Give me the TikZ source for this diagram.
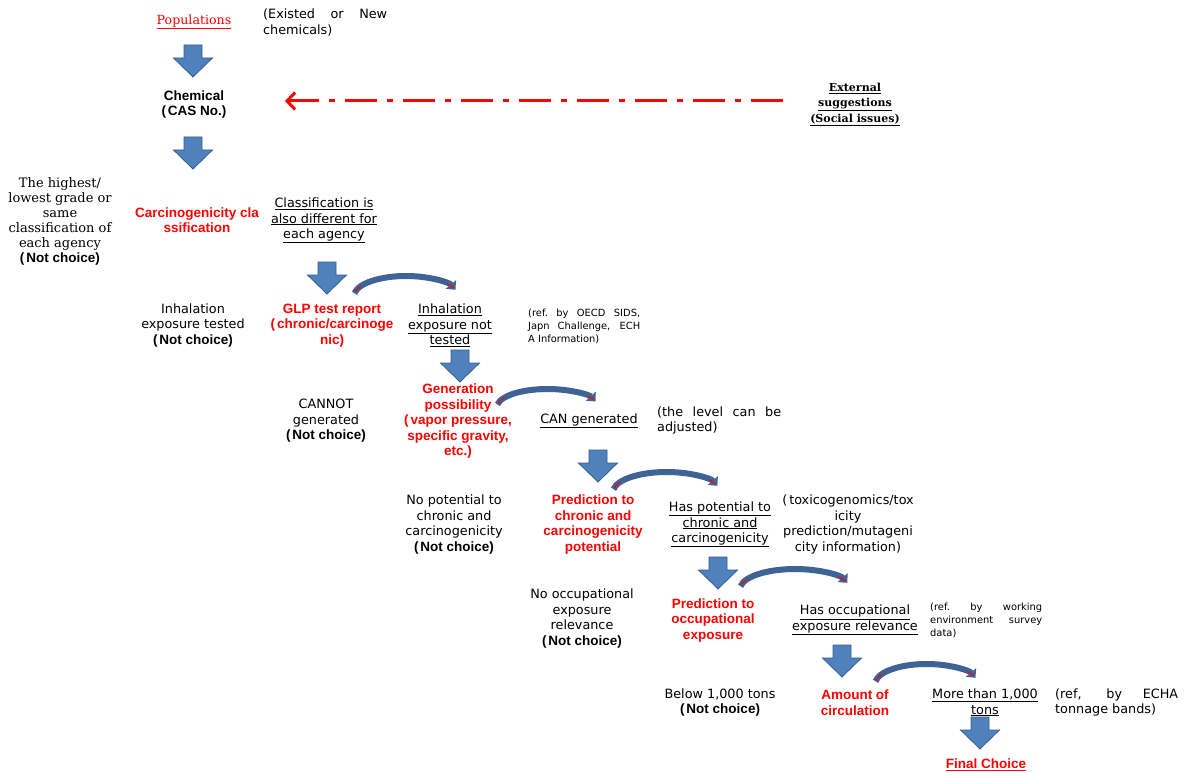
\documentclass[tikz,border=0pt]{standalone}
\usepackage{fontspec}
\setmainfont{DejaVu Sans}
\newfontfamily\lsans{Liberation Sans}
\newfontfamily\dserif{DejaVu Serif}
\usetikzlibrary{arrows.meta,calc}
\definecolor{bblue}{RGB}{79,129,189}
\definecolor{bedge}{RGB}{56,93,138}
\definecolor{cblue}{RGB}{62,100,150}
\definecolor{pred}{RGB}{255,0,0}
\newcommand\regf{\fontsize{12.8}{15.5}\selectfont}
\newcommand\redf{\lsans\bfseries\fontsize{13.5}{15.5}\selectfont}
\newcommand\serf{\dserif\fontsize{13}{15}\selectfont}
\newcommand\extf{\dserif\bfseries\fontsize{11}{15.5}\selectfont}
\newcommand\smf{\fontsize{9.9}{13}\selectfont}
\newcommand\nch{{\lsans\bfseries\fontsize{13.5}{15.5}\selectfont (\kern2pt Not choice)}}
\newcommand\myul[1]{\underline{#1}}
\newcommand\carr[5]{%
  \coordinate (#1) at (#2,-#3);
  \draw[cblue, line width=6pt, -{Triangle[width=13pt,length=7pt]}]
    ($(#1)+(172:#4 and #5)$) arc[start angle=172, end angle=18, x radius=#4, y radius=#5];
  \draw[pred, line width=1.1pt]
    ($(#1)+(168:#4 and #5)$) arc[start angle=168, end angle=150, x radius=#4, y radius=#5];
  \draw[pred, line width=1.1pt]
    ($(#1)+(38:#4 and #5)$) arc[start angle=38, end angle=24, x radius=#4, y radius=#5];
}
\tikzset{
  barrow/.pic={\filldraw[fill=bblue,draw=bedge,line width=0.8pt]
    (-9,0) -- (9,0) -- (9,-13) -- (19.5,-13) -- (0,-32) -- (-19.5,-13) -- (-9,-13) -- cycle;},
  txt/.style={font=\regf, align=center, inner sep=0pt},
  redt/.style={font=\redf, text=pred, align=center, inner sep=0pt},
  sert/.style={font=\serf, align=center, inner sep=0pt},
  note/.style={font=\smf, align=justify, inner sep=0pt, anchor=west},
  jnote/.style={font=\regf, align=justify, inner sep=0pt, anchor=west},
}
\begin{document}
\begin{tikzpicture}[x=1pt,y=1pt]
\useasboundingbox[fill=white] (0,0) rectangle (1189,-773);

% top
\node[sert, font=\dserif\fontsize{12.6}{15}\selectfont, text=pred] (pop) at (194,-22) {\myul{Populations}};
\node[jnote, text width=124pt] (exist) at (263,-22.5) {(Existed or New\linebreak chemicals)};
\pic (a1) at (193,-45) {barrow};
\node[redt, text=black] (chem) at (194,-104.5) {Chemical\\(\kern2pt CAS No.)};
\node[font=\extf, align=center, inner sep=0pt] (ext) at (855,-104.5) {\myul{External}\\\myul{suggestions}\\\myul{(Social issues)}};
\coordinate (dstart) at (783,-101);
\coordinate (dend) at (285,-101);
\draw[pred, line width=3pt, dash pattern=on 32pt off 10pt on 6pt off 10pt,
  -{Straight Barb[length=8pt,width=17pt,line width=3pt]}] (dstart) -- (dend);
\pic (a2) at (193,-137) {barrow};

% classification
\node[sert] (hi) at (60,-221.5) {The highest/\\lowest grade or\\same\\classification of\\each agency\\\nch};
\node[redt] (carc) at (197,-220) {Carcinogenicity cla\\ssification};
\node[txt] (cls) at (324,-220.5) {\myul{Classification is}\\\myul{also different for}\\\myul{each agency}};
\pic (a3) at (327,-262) {barrow};
\carr{c1}{406}{296}{52}{20}

% GLP
\node[txt] (inh) at (193,-325.5) {Inhalation\\exposure tested\\\nch};
\node[redt] (glp) at (332,-325.5) {GLP test report\\(\kern2pt chronic/carcinoge\\nic)};
\node[txt] (inhnot) at (450,-325.5) {\myul{Inhalation}\\\myul{exposure not}\\\myul{tested}};
\node[note, text width=112pt] (ref1) at (528,-326) {(ref.\ by OECD SIDS,\linebreak Japn Challenge, ECH\linebreak A Information)};
\pic (a4) at (460,-350) {barrow};
\carr{c2}{547.5}{407}{50.5}{18}

% generation
\node[redt] (gen) at (458,-421.5) {Generation\\possibility\\(\kern2pt vapor pressure,\\specific gravity,\\etc.)};
\node[txt] (cannot) at (326,-421) {CANNOT\\generated\\\nch};
\node[txt] (can) at (589,-421) {\myul{CAN generated}};
\node[jnote, text width=124pt] (level) at (657,-420.5) {(the level can be\linebreak adjusted)};
\pic (a5) at (598,-450) {barrow};
\carr{c3}{666.5}{492}{53.5}{20}

% chronic
\node[txt] (nopot) at (454,-524.5) {No potential to\\chronic and\\carcinogenicity\\\nch};
\node[redt] (pred1) at (593,-524.5) {Prediction to\\chronic and\\carcinogenicity\\potential};
\node[txt] (haspot) at (720,-524.5) {\myul{Has potential to}\\\myul{chronic and}\\\myul{carcinogenicity}};
\node[txt] (toxi) at (848,-524.5) {(\kern2pt toxicogenomics/tox\\icity\\prediction/mutageni\\city information)};
\pic (a6) at (718,-557) {barrow};
\carr{c4}{795}{589}{55}{20}

% occupational
\node[txt] (noocc) at (582,-618.5) {No occupational\\exposure\\relevance\\\nch};
\node[redt] (predocc) at (713,-620.5) {Prediction to\\occupational\\exposure};
\node[txt] (hasocc) at (855,-620) {\myul{Has occupational}\\\myul{exposure relevance}};
\node[note, text width=112pt] (ref2) at (930,-620) {(ref.\ by working\linebreak environment survey\linebreak data)};
\pic (a7) at (842,-645) {barrow};
\carr{c5}{926.5}{684}{51.5}{20}

% amount
\node[txt] (below) at (720,-702.5) {Below 1,000 tons\\\nch};
\node[redt] (amount) at (855,-702.5) {Amount of\\circulation};
\node[txt] (more) at (985,-702.5) {\myul{More than 1,000}\\\myul{tons}};
\node[jnote, text width=123pt] (ref3) at (1055,-702.5) {(ref, by ECHA\linebreak tonnage bands)};
\pic (a8) at (980,-717) {barrow};
\node[redt] (final) at (986,-765) {\myul{Final Choice}};
\end{tikzpicture}
\end{document}
